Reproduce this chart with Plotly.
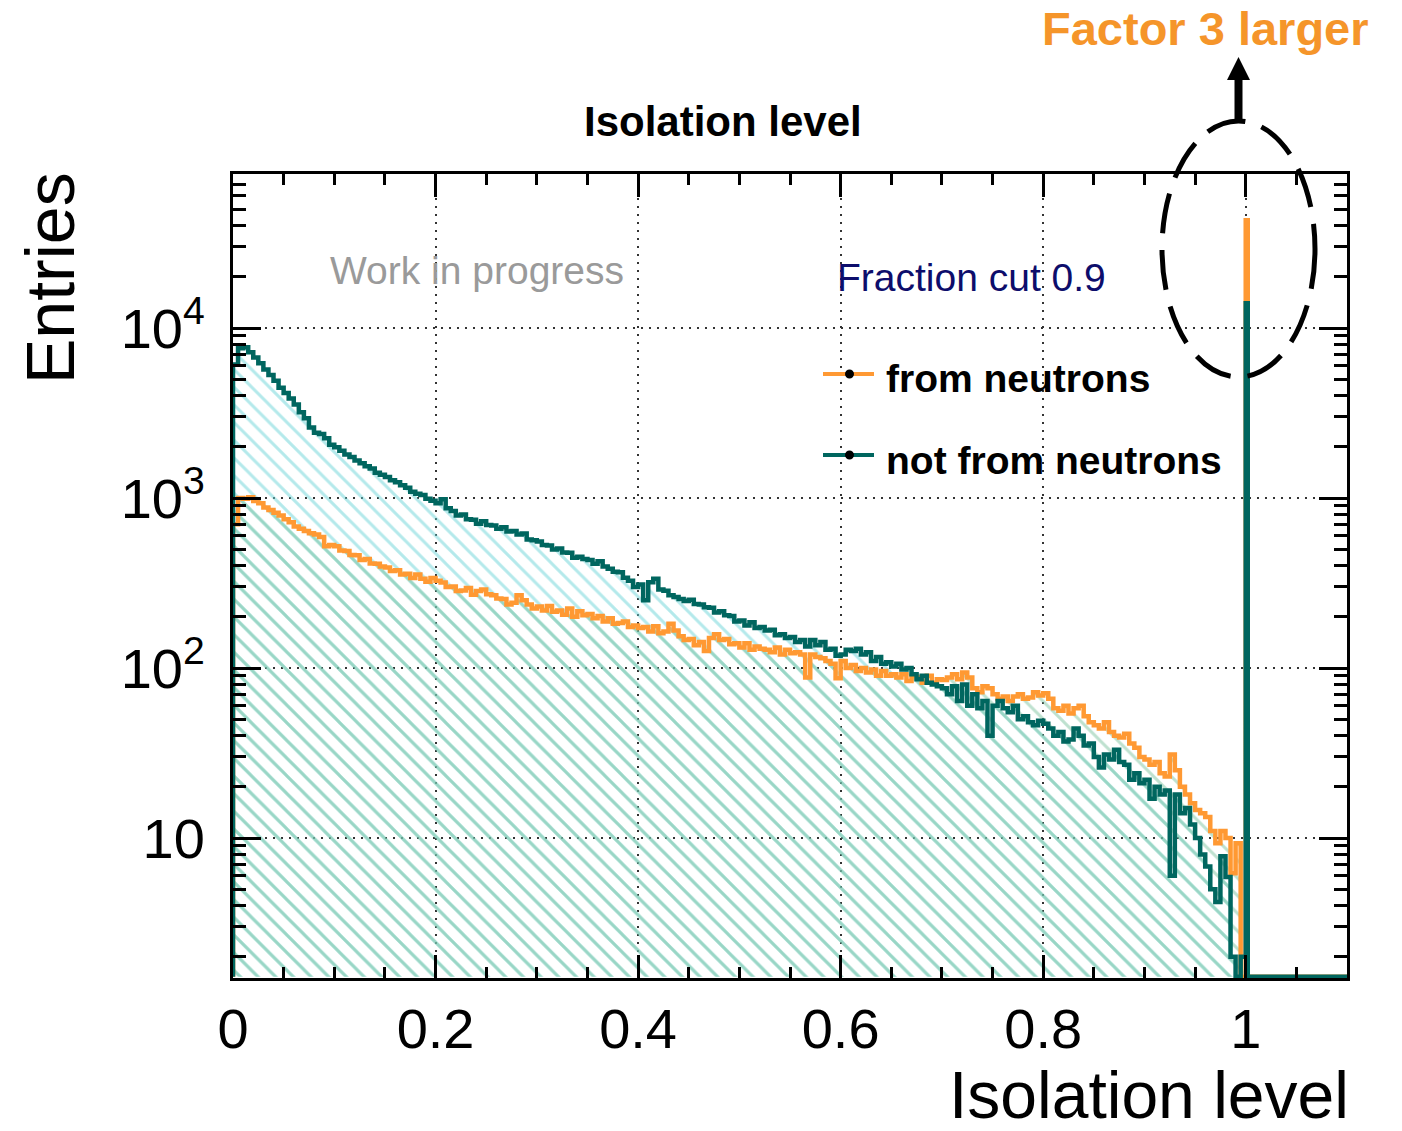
import numpy as np
import plotly.graph_objects as go

# ---------------- data ----------------
BIN_WIDTH = 0.005          # 200 bins covering [0, 1.0)
SPIKE_EDGES = [1.0, 1.002]  # narrow bin at isolation level = 1
X_MAX = 1.1

not_from_neutrons = [
    6100, 7600, 7700, 7200, 6700, 6200, 5700, 5300, 4900, 4450,
    4150, 3850, 3550, 3200, 2950, 2600, 2420, 2380, 2250, 2060,
    1990, 1900, 1800, 1740, 1660, 1600, 1540, 1490, 1410, 1370,
    1330, 1270, 1240, 1190, 1150, 1090, 1060, 1040, 990, 965,
    930, 985, 870, 840, 790, 800, 750, 745, 705, 730,
    695, 690, 660, 672, 635, 640, 610, 618, 570, 565,
    555, 530, 525, 498, 505, 478, 476, 445, 452, 438,
    432, 410, 425, 396, 384, 368, 366, 340, 326, 300,
    310, 250, 320, 335, 290, 285, 268, 262, 255, 248,
    252, 238, 236, 228, 226, 212, 216, 204, 202, 188,
    190, 178, 186, 172, 174, 166, 168, 156, 158, 150,
    152, 142, 146, 134, 146, 136, 142, 128, 130, 118,
    120, 128, 126, 130, 120, 124, 110, 116, 106, 108,
    102, 106, 98, 100, 92, 86, 90, 82, 80, 78,
    76, 70, 78, 64, 80, 60, 70, 58, 64, 40,
    60, 64, 58, 55, 60, 50, 52, 48, 46, 49,
    47, 44, 40, 42, 37, 38, 44, 40, 35, 36,
    30, 26, 31, 29, 33, 28, 27, 22, 24, 21,
    22, 17, 20, 18, 19, 6, 18, 14, 15, 12,
    10, 8, 6.8, 5, 4.2, 7.8, 5.9, 2, 0, 2,
]
not_from_neutrons_spike = 14000

from_neutrons = [
    700, 1000, 990, 1010, 960, 930, 880, 850, 820, 790,
    750, 720, 680, 660, 640, 620, 610, 590, 520, 530,
    520, 492, 488, 462, 460, 432, 438, 412, 410, 395,
    390, 372, 376, 355, 358, 338, 355, 335, 322, 338,
    326, 318, 300, 302, 284, 286, 296, 270, 284, 290,
    272, 268, 256, 255, 236, 242, 268, 250, 236, 224,
    230, 218, 232, 214, 218, 206, 224, 200, 216, 204,
    208, 196, 202, 188, 196, 182, 184, 188, 174, 178,
    172, 174, 164, 176, 160, 164, 182, 166, 154, 146,
    148, 136, 142, 126, 150, 158, 146, 148, 138, 140,
    132, 140, 128, 134, 130, 128, 124, 132, 120, 128,
    122, 124, 120, 88, 120, 116, 114, 110, 106, 87,
    110, 100, 104, 96, 100, 94, 98, 90, 96, 90,
    92, 88, 92, 84, 90, 88, 82, 90, 82, 86,
    85, 88, 92, 86, 94, 88, 76, 72, 78, 76,
    70, 66, 68, 64, 68, 70, 66, 67, 72, 69,
    71, 66, 58, 56, 60, 54, 58, 60, 52, 48,
    46, 44, 48, 42, 40, 39, 41, 36, 34, 30,
    29, 27, 28, 24, 23, 31, 25, 20, 18, 16,
    14.6, 14, 13.3, 11, 9.3, 11, 10, 6.2, 9.3, 0,
]
from_neutrons_spike = 43000

x_tickvals = [0, 0.2, 0.4, 0.6, 0.8, 1.0]
x_ticktext = ["0", "0.2", "0.4", "0.6", "0.8", "1"]
y_tickvals = [10, 100, 1000, 10000]
y_ticktext = ["10", "10<sup>2</sup>", "10<sup>3</sup>", "10<sup>4</sup>"]

# ---------------- styling ----------------
W_PX, H_PX = 1402, 1131
L, R, T, B = 233, 1347, 174, 978
PW, PH = R - L, B - T
Y_RANGE = [0.1765, 4.906]
FLOOR = 10 ** (Y_RANGE[0] + 0.008)

ORANGE = "#ff9933"
TEAL = "#00665f"
FONT = "Liberation Sans, Arial, sans-serif"


def px(x):
    return (x - L) / PW


def py(y):
    return (B - y) / PH


def step_polygon(values, spike):
    n = len(values)
    edges = list(np.round(np.arange(n + 1) * BIN_WIDTH, 6))
    bins = [(edges[i], edges[i + 1], values[i]) for i in range(n)]
    bins.append((SPIKE_EDGES[0], SPIKE_EDGES[1], spike))
    bins.append((SPIKE_EDGES[1], X_MAX, 0))
    xs, ys = [0.0], [FLOOR]
    for lo, hi, v in bins:
        yv = v if v > FLOOR else FLOOR
        xs += [lo, hi]
        ys += [yv, yv]
    xs.append(X_MAX)
    ys.append(FLOOR)
    return xs, ys


tx, ty = step_polygon(not_from_neutrons, not_from_neutrons_spike)
ox, oy = step_polygon(from_neutrons, from_neutrons_spike)

fig = go.Figure()
fig.add_trace(go.Scatter(
    x=tx, y=ty, mode="lines", line=dict(width=0), fill="toself",
    fillcolor="rgba(0,0,0,0)",
    fillpattern=dict(shape="\\", size=12.5, solidity=0.24, fgcolor="#6ad4d8"),
    hoverinfo="skip", showlegend=False))
fig.add_trace(go.Scatter(
    x=ox, y=oy, mode="lines", line=dict(width=0), fill="toself",
    fillcolor="rgba(0,0,0,0)",
    fillpattern=dict(shape="\\", size=12.5, solidity=0.24, fgcolor="#7ec4a0"),
    hoverinfo="skip", showlegend=False))
fig.add_trace(go.Scatter(x=ox, y=oy, mode="lines",
                         line=dict(color=ORANGE, width=4.5), showlegend=False,
                         name="from neutrons"))
fig.add_trace(go.Scatter(x=tx, y=ty, mode="lines",
                         line=dict(color=TEAL, width=4.5), showlegend=False,
                         name="not from neutrons"))

# y minor ticks 2..9 per decade
minor_y = [m * 10 ** k for k in range(0, 5) for m in range(2, 10)
           if Y_RANGE[0] <= np.log10(m * 10 ** k) <= Y_RANGE[1]]

fig.update_xaxes(
    range=[0, X_MAX], tickmode="array", tickvals=x_tickvals, ticktext=x_ticktext,
    ticks="inside", ticklen=23, tickwidth=3, tickcolor="black",
    minor=dict(ticks="inside", ticklen=11, tickwidth=3, tickcolor="black", dtick=0.05,
               showgrid=False),
    showline=True, linewidth=3, linecolor="black", mirror="ticks",
    showgrid=True, gridcolor="#333333", gridwidth=2, griddash="2px,6px",
    zeroline=False, tickfont=dict(family=FONT, size=56, color="black"),
    ticklabelstandoff=0,
)
fig.update_yaxes(
    type="log", range=Y_RANGE, tickmode="array", tickvals=y_tickvals, ticktext=y_ticktext,
    ticks="inside", ticklen=28, tickwidth=3, tickcolor="black",
    minor=dict(ticks="inside", ticklen=13, tickwidth=3, tickcolor="black",
               tickmode="array", tickvals=minor_y, showgrid=False),
    showline=True, linewidth=3, linecolor="black", mirror="ticks",
    showgrid=True, gridcolor="#333333", gridwidth=2, griddash="2px,6px",
    zeroline=False, tickfont=dict(family=FONT, size=56, color="black"),
    ticklabelstandoff=14,
)


def note(text, x, y, size, color="black", xanchor="center", **kw):
    return dict(text=text, x=px(x), y=py(y), xref="paper", yref="paper",
                xanchor=xanchor, yanchor="middle", showarrow=False,
                font=dict(family=FONT, size=size, color=color), **kw)


annotations = [
    note("<b>Isolation level</b>", 723, 122, 42),
    note("<b>Factor 3 larger</b>", 1205, 28, 47, color="#f5952a"),
    note("Work in progress", 477, 270, 39, color="#9a9a9a"),
    note("Fraction cut 0.9", 971, 277, 39, color="#0d0d6b"),
    note("<b>from neutrons</b>", 884, 378, 39, xanchor="left"),
    note("<b>not from neutrons</b>", 884, 460, 39, xanchor="left"),
    note("Isolation level", 1351, 1095, 66, xanchor="right"),
    note("Entries", 50, 278, 68, textangle=-90),
]

shapes = []
for yy, col in [(374, ORANGE), (455, TEAL)]:
    shapes.append(dict(type="line", xref="paper", yref="paper",
                       x0=px(823), x1=px(874), y0=py(yy), y1=py(yy),
                       line=dict(color=col, width=4)))
    shapes.append(dict(type="circle", xref="paper", yref="paper",
                       x0=px(845), x1=px(854), y0=py(yy + 4.5), y1=py(yy - 4.5),
                       fillcolor="black", line=dict(color="black", width=0)))
# dashed ellipse
shapes.append(dict(type="circle", xref="paper", yref="paper",
                   x0=px(1162), x1=px(1315), y0=py(377), y1=py(121),
                   line=dict(color="black", width=5, dash="40px,17px")))
# arrow
shapes.append(dict(type="line", xref="paper", yref="paper",
                   x0=px(1238.5), x1=px(1238.5), y0=py(121), y1=py(78),
                   line=dict(color="black", width=8)))
shapes.append(dict(type="path", xref="paper", yref="paper",
                   path=f"M {px(1227)} {py(80)} L {px(1250)} {py(80)} L {px(1238.5)} {py(57)} Z",
                   fillcolor="black", line=dict(color="black", width=0)))

fig.update_layout(
    width=W_PX, height=H_PX,
    margin=dict(l=L, r=W_PX - R, t=T, b=H_PX - B, pad=0),
    paper_bgcolor="white", plot_bgcolor="white",
    annotations=annotations, shapes=shapes, showlegend=False,
    font=dict(family=FONT),
)

fig.write_html("out.html")
